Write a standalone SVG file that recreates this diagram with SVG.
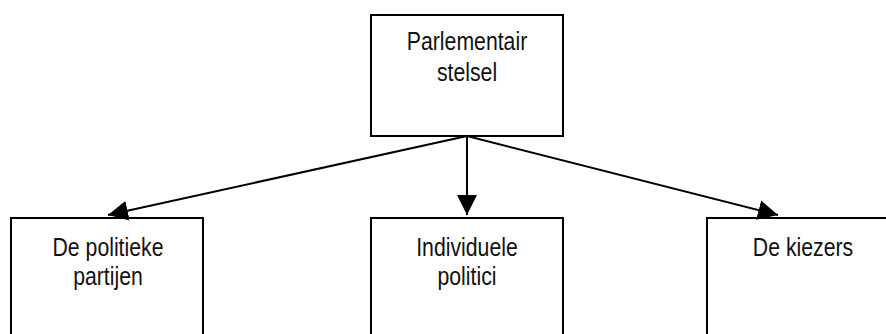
<svg xmlns="http://www.w3.org/2000/svg" width="886" height="334" viewBox="0 0 886 334">
<style>
.box{fill:#fff;stroke:#000;stroke-width:2}
.lbl{font-family:"Liberation Sans",Arial,sans-serif;font-size:25px;fill:#111;text-anchor:middle}
.conn{stroke:#000;stroke-width:2;fill:none}
</style>
<defs>
<marker id="ah" markerUnits="userSpaceOnUse" markerWidth="22" markerHeight="22" refX="20" refY="10" orient="auto" viewBox="0 0 22 20">
<path d="M0,0 L20,10 L0,20 Z" fill="#000"/>
</marker>
</defs>
<rect width="886" height="334" fill="#fff"/>
<g id="node-parlementair">
<rect class="box" x="371" y="15" width="192" height="121"/>
<text class="lbl" transform="translate(467,50) scale(0.85,1)">Parlementair</text>
<text class="lbl" transform="translate(467,81) scale(0.85,1)">stelsel</text>
</g>
<g id="node-partijen">
<rect class="box" x="11" y="218" width="192" height="130"/>
<text class="lbl" transform="translate(108,256) scale(0.85,1)">De politieke</text>
<text class="lbl" transform="translate(108,285) scale(0.85,1)">partijen</text>
</g>
<g id="node-politici">
<rect class="box" x="371" y="218" width="192" height="130"/>
<text class="lbl" transform="translate(467,256) scale(0.85,1)">Individuele</text>
<text class="lbl" transform="translate(467,285) scale(0.85,1)">politici</text>
</g>
<g id="node-kiezers">
<rect class="box" x="707" y="218" width="192" height="130"/>
<text class="lbl" transform="translate(803,256) scale(0.85,1)">De kiezers</text>
</g>
<g id="connectors">
<line class="conn" x1="467" y1="136" x2="108" y2="215" marker-end="url(#ah)"/>
<line class="conn" x1="467" y1="136" x2="467" y2="215" marker-end="url(#ah)"/>
<line class="conn" x1="467" y1="136" x2="778" y2="215" marker-end="url(#ah)"/>
</g>
</svg>
